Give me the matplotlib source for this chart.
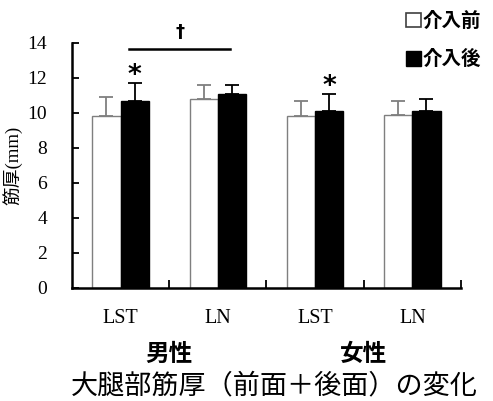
import numpy as np
import matplotlib.pyplot as plt
from matplotlib.patches import Patch

# 大腿部筋厚 (前面+後面), mean and SD
categories = ['LST', 'LN', 'LST', 'LN']
groups = ['男性', '女性']
before = [9.8, 10.8, 9.8, 9.9]
before_sd = [1.1, 0.8, 0.9, 0.8]
after = [10.7, 11.1, 10.1, 10.1]
after_sd = [1.0, 0.5, 1.0, 0.7]

serif = ['Liberation Serif', 'Noto Sans CJK JP']
cjk = ['Noto Sans CJK JP', 'DejaVu Sans']

fig = plt.figure(figsize=(4.93, 4.01), dpi=100)
ax = fig.add_axes([0.146, 0.282, 0.789, 0.611])

x = np.arange(len(categories))
w = 0.29
ax.bar(x - w / 2, before, w, color='white', edgecolor='#7f7f7f', linewidth=1.0, zorder=2)
ax.bar(x + w / 2, after, w, color='black', edgecolor='black', linewidth=1.0, zorder=2)
zeros = np.zeros(len(x))
ax.errorbar(x - w / 2, before, yerr=[zeros, before_sd], fmt='none', ecolor='#7f7f7f',
            elinewidth=1.3, capsize=5, capthick=1.3, zorder=1)
ax.errorbar(x + w / 2, after, yerr=[zeros, after_sd], fmt='none', ecolor='black',
            elinewidth=1.3, capsize=5, capthick=1.3, zorder=1)

# significance marks
ax.text(0 + w / 2, after[0] + after_sd[0] + 0.4, '*', ha='center', va='center',
        fontsize=19, fontweight='bold', family='DejaVu Sans')
ax.text(2 + w / 2, after[2] + after_sd[2] + 0.4, '*', ha='center', va='center',
        fontsize=19, fontweight='bold', family='DejaVu Sans')
ax.plot([0.09, 1.12], [13.66, 13.66], color='black', lw=1.8, clip_on=False)
ax.text(0.61, 14.6, '†', ha='center', va='center', fontsize=13, fontweight='bold',
        family='DejaVu Sans')

ax.set_xlim(-0.5, 3.5)
ax.set_ylim(0, 14)
ax.set_yticks(np.arange(0, 15, 2))
ax.set_xticks(x)
ax.set_xticklabels(categories)
ax.set_xticks(np.arange(0.5, 4, 1), minor=True)
ax.tick_params(axis='x', which='major', length=0, pad=15)
ax.tick_params(axis='x', which='minor', direction='in', length=6, width=1.3)
ax.tick_params(axis='y', direction='in', length=5, width=1.3, pad=18)
for lab in ax.get_xticklabels():
    lab.set_family(serif)
    lab.set_fontsize(14.5)
for lab in ax.get_yticklabels():
    lab.set_family(serif)
    lab.set_fontsize(14)
for s in ['top', 'right']:
    ax.spines[s].set_visible(False)
for s in ['left', 'bottom']:
    ax.spines[s].set_linewidth(1.8)

ax.set_ylabel('筋厚(mm)', family=serif, fontsize=13.5)
ax.yaxis.set_label_coords(-0.128, 0.5)

for i, g in enumerate(groups):
    ax.text(2 * i + 0.5, -0.27, g, transform=ax.get_xaxis_transform(), ha='center',
            va='center', fontsize=17, fontweight='bold', family=cjk)
fig.text(0.556, 0.037, '大腿部筋厚（前面＋後面）の変化', ha='center', va='center',
         fontsize=19.5, family=cjk)

handles = [Patch(facecolor='white', edgecolor='#404040', linewidth=1.2),
           Patch(facecolor='black', edgecolor='black')]
fig.legend(handles, ['介入前', '介入後'], loc='upper right', bbox_to_anchor=(1.0, 1.0),
           frameon=False, handlelength=0.75, handleheight=0.75, handletextpad=0.1,
           labelspacing=1.0, borderaxespad=0.2,
           prop={'family': cjk, 'size': 14, 'weight': 'bold'})

fig.savefig('out.png', dpi=100)
